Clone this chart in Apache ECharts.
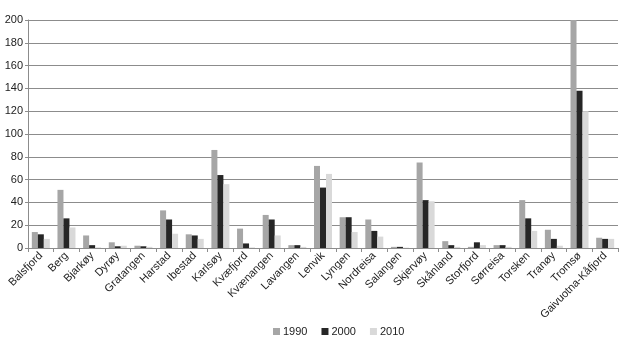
<!DOCTYPE html>
<html>
<head>
<meta charset="utf-8">
<script src="https://cdn.jsdelivr.net/npm/echarts@6/dist/echarts.min.js"></script>
<style>
  html, body { margin: 0; padding: 0; background: #fff; }
  #chart-container { width: 620px; height: 354px; }
</style>
</head>
<body>
<div id="chart-container"></div>
<script>
const municipalities = ['Balsfjord', 'Berg', 'Bjarkøy', 'Dyrøy', 'Gratangen', 'Harstad', 'Ibestad', 'Karlsøy',
    'Kvæfjord', 'Kvænangen', 'Lavangen', 'Lenvik', 'Lyngen', 'Nordreisa', 'Salangen', 'Skjervøy',
    'Skånland', 'Storfjord', 'Sørreisa', 'Torsken', 'Tranøy', 'Tromsø', 'Gaivuotna-Kåfjord'];
const values1990 = [14, 51, 11, 5, 2, 33, 12, 86, 17, 29, 2.5, 72, 27, 25, 1, 75, 6, 1, 2.5, 42, 16, 200, 9];
const values2000 = [12, 26, 2.5, 1.5, 1.5, 25, 11, 64, 4, 25, 2.5, 53, 27, 15, 1, 42, 2.5, 5, 2.5, 26, 8, 138, 8];
const values2010 = [8, 18, 0.5, 2, 1, 12.5, 8, 56, 0.5, 11, 1, 65, 14, 10, 0.3, 41, 1, 2.5, 1, 15, 2, 120, 8];
const yTicks = { min: 0, max: 200, interval: 20 };

const myChart = echarts.init(document.getElementById('chart-container'));

const seriesNames = ['1990', '2000', '2010'];
const seriesData = [values1990, values2000, values2010];
const colors = ['#a6a6a6', '#262626', '#d9d9d9'];

const option = {
    animation: false,
    textStyle: { fontFamily: 'Liberation Sans, Arial, sans-serif' },
    grid: { left: 28, right: 2, top: 20, bottom: 106 },
    legend: {
        top: 321,
        left: 268,
        itemWidth: 7,
        itemHeight: 7,
        itemGap: 14,
        icon: 'rect',
        textStyle: { fontSize: 11, color: '#222', padding: [0, 0, 0, -2] },
        data: seriesNames
    },
    xAxis: {
        type: 'category',
        data: municipalities,
        axisLine: { lineStyle: { color: '#8c8c8c', width: 1 } },
        axisTick: { show: true, length: 4, lineStyle: { color: '#8c8c8c' } },
        axisLabel: { rotate: 45, fontSize: 11, color: '#222', margin: 6, interval: 0 }
    },
    yAxis: {
        type: 'value',
        min: yTicks.min,
        max: yTicks.max,
        interval: yTicks.interval,
        axisLine: { show: true, lineStyle: { color: '#8c8c8c' } },
        axisTick: { show: true, length: 3, lineStyle: { color: '#8c8c8c' } },
        axisLabel: { fontSize: 11, color: '#222', margin: 5 },
        splitLine: { lineStyle: { color: '#8c8c8c', width: 1 } }
    },
    series: seriesNames.map((name, i) => ({
        name: name,
        type: 'bar',
        data: seriesData[i],
        barWidth: 6,
        barGap: '0%',
        itemStyle: { color: colors[i] }
    }))
};

option && myChart.setOption(option);
</script>
</body>
</html>
